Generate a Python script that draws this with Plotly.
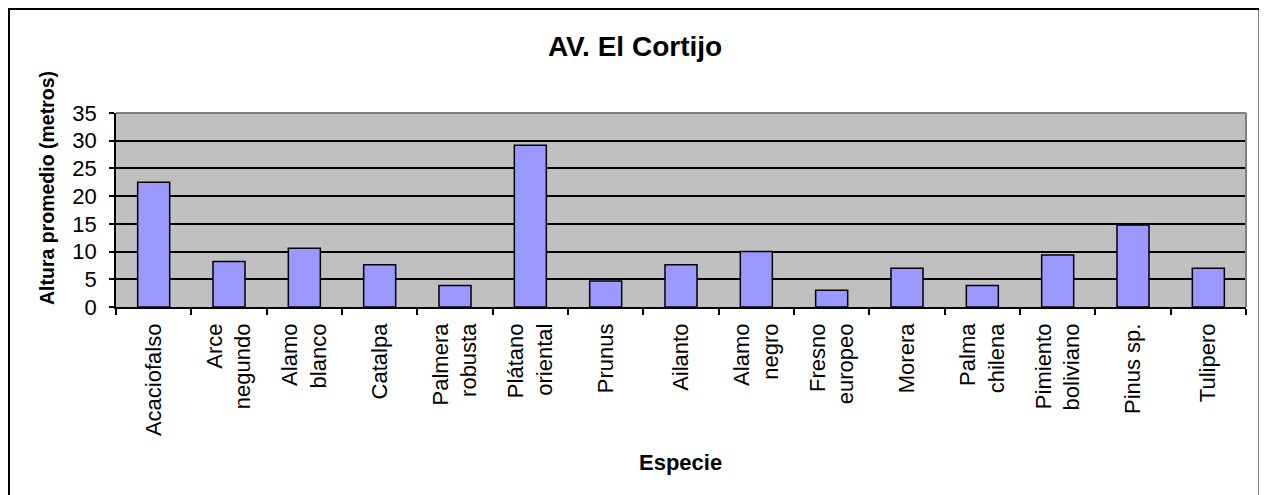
import plotly.graph_objects as go

categories = ["Acaciofalso", "Arce<br>negundo", "Alamo<br>blanco", "Catalpa", "Palmera<br>robusta",
              "Plátano<br>oriental", "Prunus", "Ailanto", "Alamo<br>negro", "Fresno<br>europeo",
              "Morera", "Palma<br>chilena", "Pimiento<br>boliviano", "Pinus sp.", "Tulipero"]
heights = [22.5, 8.2, 10.6, 7.6, 3.9, 29.2, 4.7, 7.6, 10.0, 3.0, 7.0, 3.9, 9.4, 14.8, 7.0]
y_ticks = [0, 5, 10, 15, 20, 25, 30, 35]

# page body has an 8px margin; work in screen pixels and shift
OFF = 8
W, H = 1267 - OFF, 495 - OFF
L, R, T, B = 116 - OFF, 21, 113 - OFF, 188
pw, ph = W - L - R, H - T - B

def px_x(x):
    return (x - OFF - L) / pw

def px_y(y):
    return (H - B - (y - OFF)) / ph

fig = go.Figure(go.Bar(
    x=categories, y=heights,
    marker=dict(color="#9999FF", line=dict(color="black", width=1.5)),
))

font = "Arial, Liberation Sans, sans-serif"
fig.update_layout(
    width=W, height=H,
    margin=dict(l=L, r=R, t=T, b=B),
    paper_bgcolor="white", plot_bgcolor="#C0C0C0",
    bargap=0.575, showlegend=False,
    font=dict(family=font, color="black"),
    title=dict(text="<b>AV. El Cortijo</b>", x=(635 - OFF) / W, y=1 - (46 - OFF) / H,
               xanchor="center", yanchor="middle",
               font=dict(size=28, family=font, color="black")),
)
fig.update_xaxes(
    tickangle=-90, tickson="boundaries", ticks="outside", ticklen=6, tickcolor="black",
    tickwidth=1.5, showline=True, linecolor="black", linewidth=1.5, ticklabelstandoff=6,
    tickfont=dict(size=22, family=font, color="black"), showgrid=False,
)
fig.update_yaxes(
    range=[0, 35], tickvals=y_ticks, ticks="outside", ticklen=5, tickcolor="black",
    tickwidth=1.5, showline=True, linecolor="black", linewidth=1.5, ticklabelstandoff=8,
    gridcolor="black", gridwidth=1.5, tickfont=dict(size=22, family=font, color="black"),
    zeroline=False,
)
# grey plot area border top/right
fig.add_shape(type="line", xref="paper", yref="paper", x0=0, x1=1, y0=1, y1=1,
              line=dict(color="#808080", width=2))
fig.add_shape(type="line", xref="paper", yref="paper", x0=1, x1=1, y0=0, y1=1,
              line=dict(color="#808080", width=2))
# outer chart border
fig.add_shape(type="rect", xref="paper", yref="paper",
              x0=px_x(9), x1=px_x(1259.5), y0=px_y(500), y1=px_y(9),
              line=dict(color="black", width=2), fillcolor="rgba(0,0,0,0)")
fig.add_annotation(text="<b>Altura promedio (metros)</b>", xref="paper", yref="paper",
                   x=px_x(47), y=px_y(188), textangle=-90, showarrow=False,
                   xanchor="center", yanchor="middle", font=dict(size=19.5, family=font, color="black"))
fig.add_annotation(text="<b>Especie</b>", xref="paper", yref="paper",
                   x=px_x(680), y=px_y(462), showarrow=False,
                   xanchor="center", yanchor="middle", font=dict(size=22, family=font, color="black"))

fig.write_html("out.html")
